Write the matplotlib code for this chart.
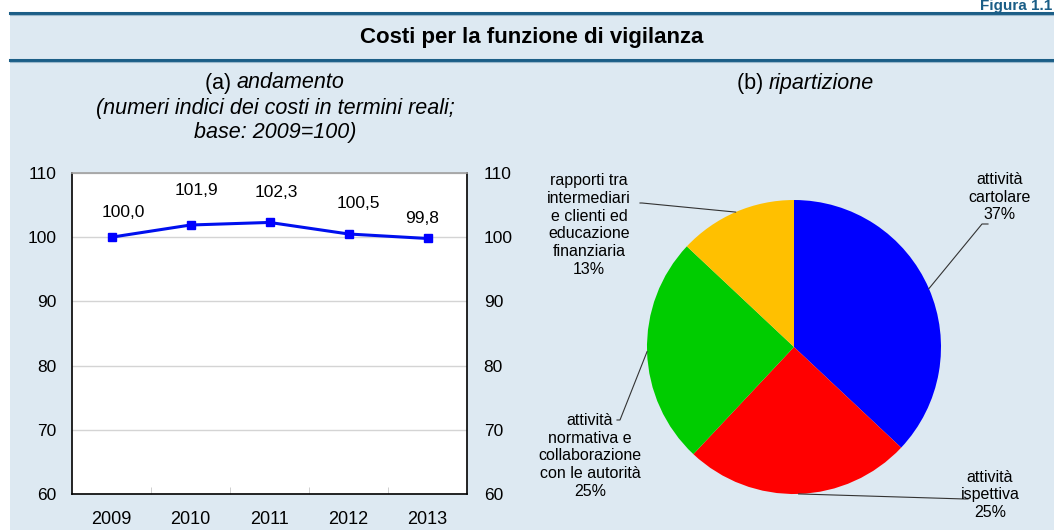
import numpy as np
import matplotlib
matplotlib.use("Agg")
import matplotlib.pyplot as plt
from matplotlib.patches import Rectangle
from matplotlib.lines import Line2D

plt.rcParams['font.family'] = ['Liberation Sans', 'DejaVu Sans']

# dati
years = ['2009', '2010', '2011', '2012', '2013']
index_values = [100.0, 101.9, 102.3, 100.5, 99.8]
y_ticks = [60, 70, 80, 90, 100, 110]

pie_labels = ['attività\ncartolare', 'attività\nispettiva',
              'attività\nnormativa e\ncollaborazione\ncon le autorità',
              'rapporti tra\nintermediari\ne clienti ed\neducazione\nfinanziaria']
pie_shares = [37, 25, 25, 13]
pie_colors = ['#0000ff', '#ff0000', '#00cc00', '#ffc000']

W, H = 1054, 530
BG = '#dde9f2'
DARK = '#1b5e87'


def fx(x):
    return x / W


def fy(y):
    return 1 - y / H


fig = plt.figure(figsize=(W / 100, H / 100), dpi=100)
fig.patch.set_facecolor('white')

# sfondo e bande
fig.add_artist(Rectangle((fx(10), 0), 1 - fx(10), fy(13), transform=fig.transFigure,
                         facecolor=BG, edgecolor='none', zorder=0))
for yl in (13, 60):
    fig.add_artist(Line2D([fx(10), 1], [fy(yl), fy(yl)], transform=fig.transFigure,
                          color=DARK, lw=2.2, zorder=1))
    fig.add_artist(Line2D([fx(10), 1], [fy(yl + 2), fy(yl + 2)], transform=fig.transFigure,
                          color='#9ab8cc', lw=0.8, zorder=1))

fig.text(fx(1052), fy(10), 'Figura 1.1', ha='right', va='baseline', fontsize=11,
         fontweight='bold', color=DARK)
fig.text(fx(532), fy(37), 'Costi per la funzione di vigilanza', ha='center', va='center',
         fontsize=16, fontweight='bold', color='black')

# sottotitoli
SUB = 15.5
fig.text(fx(237), fy(83), '(a) ', ha='right', va='center', fontsize=SUB)
fig.text(fx(237), fy(83), 'andamento', ha='left', va='center', fontsize=SUB, style='italic')
fig.text(fx(275), fy(120.5), '(numeri indici dei costi in termini reali;\nbase: 2009=100)',
         ha='center', va='center', fontsize=SUB, style='italic', linespacing=1.15)
fig.text(fx(769), fy(83), '(b) ', ha='right', va='center', fontsize=SUB)
fig.text(fx(769), fy(83), 'ripartizione', ha='left', va='center', fontsize=SUB, style='italic')

# (a) grafico a linee
ax = fig.add_axes([fx(72), fy(494), (467 - 72) / W, (494 - 173) / H])
ax.set_facecolor('white')
x = np.arange(len(years))
ax.plot(x, index_values, color='#0010ee', lw=2.2, marker='s', markersize=5.5,
        markerfacecolor='#0000ff', markeredgecolor='#0000ff', zorder=3)
offsets = [(12, 25), (6, 35), (7, 30), (10, 30), (-5, 20)]
for xi, v, off in zip(x, index_values, offsets):
    ax.annotate(f'{v:.1f}'.replace('.', ','), (xi, v), xytext=off,
                textcoords='offset pixels', ha='center', va='center', fontsize=12.5)
ax.set_xlim(-0.5, len(years) - 0.5)
ax.set_ylim(60, 110)
ax.set_yticks(y_ticks)
ax.set_xticks(x)
ax.set_xticklabels(years, fontsize=13)
ax.set_xticks(x[:-1] + 0.5, minor=True)
ax.tick_params(axis='x', which='major', length=0, pad=12)
ax.tick_params(axis='x', which='minor', length=5, direction='in', color='#c8c8c8')
ax.tick_params(axis='y', length=0, pad=11, labelsize=12.5)
ax.grid(axis='y', color='#d4d4d4', lw=1)
ax.set_axisbelow(True)
for s in ('left', 'bottom', 'right'):
    ax.spines[s].set_color('black')
    ax.spines[s].set_linewidth(1.2)
ax.spines['top'].set_color('#a0a0a0')
ax.spines['top'].set_linewidth(1.2)

ax2 = ax.twinx()
ax2.set_ylim(60, 110)
ax2.set_yticks(y_ticks)
ax2.tick_params(axis='y', length=0, pad=12, labelsize=12.5)
for s in ax2.spines.values():
    s.set_visible(False)

# (b) torta
pr = 147
pax = fig.add_axes([fx(794 - pr), fy(347 + pr), 2 * pr / W, 2 * pr / H])
pax.set_facecolor('none')
wedges, _ = pax.pie(pie_shares, colors=pie_colors, startangle=90, counterclock=False,
                    radius=1, wedgeprops=dict(linewidth=0))
pax.set_xlim(-1, 1)
pax.set_ylim(-1, 1)
pax.set_aspect('equal')
pax.axis('off')

# posizioni etichette (pixel) e gomiti delle linee guida
label_pos = [(1000, 197), (990, 495), (590, 456), (589, 225)]
elbows = [[(982, 224), (988, 224)], [(965, 499), (968, 499)],
          [(620, 420), (617, 420)], [(642, 203), (640, 203)]]
for w, lab, share, pos, elb in zip(wedges, pie_labels, pie_shares, label_pos, elbows):
    ang = np.deg2rad((w.theta1 + w.theta2) / 2)
    px0 = 794 + pr * np.cos(ang)
    py0 = 347 - pr * np.sin(ang)
    xs = [px0] + [p[0] for p in elb]
    ys = [py0] + [p[1] for p in elb]
    fig.add_artist(Line2D([fx(v) for v in xs], [fy(v) for v in ys], transform=fig.transFigure,
                          color='#333333', lw=0.8))
    fig.text(fx(pos[0]), fy(pos[1]), f'{lab}\n{share}%', ha='center', va='center',
             fontsize=11.5, linespacing=1.22)

fig.savefig('out.png', dpi=100, facecolor=fig.get_facecolor())
